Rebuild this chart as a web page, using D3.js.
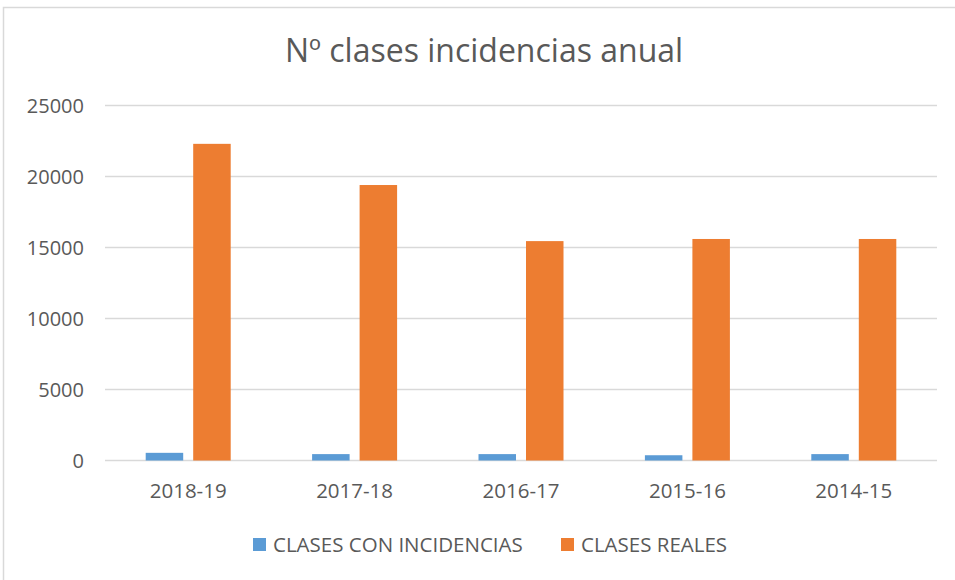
<!DOCTYPE html>
<html>
<head>
<meta charset="utf-8">
<script src="https://cdn.jsdelivr.net/npm/d3@7"></script>
<style>
  body { margin: 0; background: #fff; }
  text { font-family: "Open Sans", "Liberation Sans", sans-serif; fill: #595959; }
</style>
</head>
<body>
<div id="chart"></div>
<script>
// Data
const categories = ["2018-19", "2017-18", "2016-17", "2015-16", "2014-15"];
const seriesNames = ["CLASES CON INCIDENCIAS", "CLASES REALES"];
const incidencias = [540, 450, 450, 370, 450];
const reales = [22300, 19400, 15450, 15600, 15600];
const yTicks = [0, 5000, 10000, 15000, 20000, 25000];
const colors = ["#5b9bd5", "#ed7d31"];

const width = 955;
const height = 580;
const margin = { top: 105.5, right: 18, bottom: 119.5, left: 105 };

const svg = d3.select("#chart")
    .append("svg")
    .attr("width", width)
    .attr("height", height);

// chart border (runs off the right/bottom of the picture)
svg.append("rect")
    .attr("x", 3.5)
    .attr("y", 7.5)
    .attr("width", 1000)
    .attr("height", 1000)
    .attr("fill", "none")
    .attr("stroke", "#d9d9d9")
    .attr("stroke-width", 1.5);

const x = d3.scaleBand()
    .domain(categories)
    .range([margin.left, width - margin.right]);

const y = d3.scaleLinear()
    .domain([0, 25000])
    .range([height - margin.bottom, margin.top]);

const barW = 37.5;
const gap = 10;

// gridlines
svg.append("g")
    .selectAll("line")
    .data(yTicks)
    .enter().append("line")
    .attr("x1", margin.left)
    .attr("x2", width - margin.right)
    .attr("y1", d => y(d))
    .attr("y2", d => y(d))
    .attr("stroke", "#d9d9d9")
    .attr("stroke-width", 1.5);

// y labels
svg.append("g")
    .selectAll("text")
    .data(yTicks)
    .enter().append("text")
    .attr("x", 84)
    .attr("y", d => y(d))
    .attr("dy", "0.35em")
    .attr("text-anchor", "end")
    .style("font-size", "20px")
    .text(d => d);

// bars
const series = [incidencias, reales];
series.forEach((vals, i) => {
    svg.append("g")
        .selectAll("rect")
        .data(vals)
        .enter().append("rect")
        .attr("x", (d, j) => x(categories[j]) + x.bandwidth() / 2 - barW - gap / 2 + i * (barW + gap))
        .attr("y", d => y(d))
        .attr("width", barW)
        .attr("height", d => y(0) - y(d))
        .attr("fill", colors[i]);
});

// x labels
svg.append("g")
    .selectAll("text")
    .data(categories)
    .enter().append("text")
    .attr("x", d => x(d) + x.bandwidth() / 2)
    .attr("y", 491)
    .attr("dy", "0.35em")
    .attr("text-anchor", "middle")
    .style("font-size", "20.5px")
    .text(d => d);

// title
svg.append("text")
    .attr("x", 484)
    .attr("y", 51)
    .attr("dy", "0.35em")
    .attr("text-anchor", "middle")
    .style("font-size", "32px")
    .text("Nº clases incidencias anual");

// legend
const legendX = [253, 561];
seriesNames.forEach((name, i) => {
    svg.append("rect")
        .attr("x", legendX[i])
        .attr("y", 538)
        .attr("width", 13)
        .attr("height", 13)
        .attr("fill", colors[i]);
    svg.append("text")
        .attr("x", legendX[i] + 20)
        .attr("y", 545)
        .attr("dy", "0.35em")
        .style("font-size", "20.5px")
        .text(name);
});
</script>
</body>
</html>
